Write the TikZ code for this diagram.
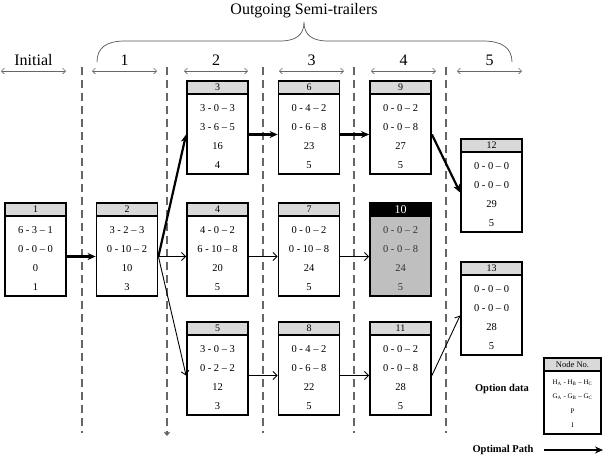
\documentclass[tikz,border=0pt]{standalone}
\usepackage{fontspec}
\setmainfont{Liberation Serif}
\usetikzlibrary{arrows.meta}
\definecolor{headgray}{HTML}{D9D9D9}
\definecolor{darkbody}{HTML}{BFBFBF}
\definecolor{sepgray}{HTML}{666666}
\definecolor{bracegray}{HTML}{555555}
\tikzset{
 boxbody/.style={draw=black, line width=1.8pt, minimum width=61pt, minimum height=93pt, inner sep=0pt, fill=white},
 boxhead/.style={draw=black, line width=1.8pt, minimum width=61pt, minimum height=13pt, inner sep=0pt, fill=headgray, font=\fontsize{10}{11}\selectfont},
 rowtxt/.style={inner sep=0pt, font=\fontsize{10.5}{12}\selectfont},
 legtxt/.style={inner sep=0pt, font=\fontsize{7}{8}\selectfont},
 optarrow/.style={line width=2.2pt, -{Stealth[length=8pt,width=7pt]}},
 plainarrow/.style={line width=0.9pt, -{Straight Barb[length=4pt,width=8pt]}},
 period/.style={draw=sepgray, line width=0.6pt, {Straight Barb[length=3pt,width=6pt]}-{Straight Barb[length=3pt,width=6pt]}},
 sepline/.style={draw=sepgray, line width=1.2pt, dash pattern=on 8pt off 5pt},
 toplabel/.style={font=\fontsize{16}{18}\selectfont, inner sep=0pt},
 boldlabel/.style={font=\fontsize{10.5}{12}\selectfont\bfseries, inner sep=0pt},
}
\newcommand\tbox[8]{%
 \node[boxbody] (#1) at (#2,#3+46.5) {};
 \node[boxhead,anchor=north] (#1h) at (#1.north) {#4};
 \node[rowtxt] (#1a) at (#2,#3+27) {#5};
 \node[rowtxt] (#1b) at (#2,#3+46) {#6};
 \node[rowtxt] (#1c) at (#2,#3+65) {#7};
 \node[rowtxt] (#1d) at (#2,#3+84) {#8};
}
\begin{document}
\begin{tikzpicture}[x=1pt,y=-1pt]
\useasboundingbox (0,0) rectangle (606,464);

% title and brace
\node[toplabel] (title) at (304,11) {Outgoing Semi-trailers};
\draw[bracegray, line width=0.7pt] (97,62) .. controls (97,48) and (106,41) .. (125,41) -- (280,41)
  .. controls (296,41) and (304,35) .. (304,22) .. controls (304,35) and (312,41) .. (328,41) -- (483,41)
  .. controls (502,41) and (512,48) .. (512,62);

% period labels and arrows
\node[toplabel] (lI) at (33.5,60) {Initial};
\node[toplabel] (l1) at (124.5,60) {1};
\node[toplabel] (l2) at (216,60) {2};
\node[toplabel] (l3) at (311.5,60) {3};
\node[toplabel] (l4) at (403.5,60) {4};
\node[toplabel] (l5) at (489.5,60) {5};
\coordinate (aI1) at (1,71);   \coordinate (aI2) at (66,71);
\coordinate (a11) at (92,71);  \coordinate (a12) at (157,71);
\coordinate (a21) at (184,71); \coordinate (a22) at (248,71);
\coordinate (a31) at (279,71); \coordinate (a32) at (344,71);
\coordinate (a41) at (371,71); \coordinate (a42) at (436,71);
\coordinate (a51) at (457,71); \coordinate (a52) at (522,71);
\draw[period] (aI1) -- (aI2);
\draw[period] (a11) -- (a12);
\draw[period] (a21) -- (a22);
\draw[period] (a31) -- (a32);
\draw[period] (a41) -- (a42);
\draw[period] (a51) -- (a52);

% separators
\draw[sepline] (82,67) -- (82,433);
\draw[sepline, -{Straight Barb[length=3pt,width=5pt]}] (167,67) -- (167,436);
\draw[sepline] (263,67) -- (263,433);
\draw[sepline] (354,67) -- (354,433);
\draw[sepline] (446,67) -- (446,433);

% boxes
\tbox{n1}{35.5}{203}{1}{6 - 3 -- 1}{0 - 0 -- 0}{0}{1}
\tbox{n2}{127}{203}{2}{3 - 2 -- 3}{0 - 10 -- 2}{10}{3}
\tbox{n3}{217.5}{81}{3}{3 - 0 -- 3}{3 - 6 -- 5}{16}{4}
\tbox{n4}{217.5}{203}{4}{4 - 0 -- 2}{6 - 10 -- 8}{20}{5}
\tbox{n5}{217.5}{322}{5}{3 - 0 -- 3}{0 - 2 -- 2}{12}{3}
\tbox{n6}{309}{81}{6}{0 - 4 -- 2}{0 - 6 -- 8}{23}{5}
\tbox{n7}{309}{203}{7}{0 - 0 -- 2}{0 - 10 -- 8}{24}{5}
\tbox{n8}{309}{322}{8}{0 - 4 -- 2}{0 - 6 -- 8}{22}{5}
\tbox{n9}{400.5}{81}{9}{0 - 0 -- 2}{0 - 0 -- 8}{27}{5}
\begin{scope}[boxbody/.append style={fill=darkbody},
  boxhead/.append style={fill=black,text=white,font=\fontsize{12}{13}\selectfont},
  rowtxt/.append style={text=black!80}]
\tbox{n10}{400.5}{203}{10}{0 - 0 -- 2}{0 - 0 -- 8}{24}{5}
\end{scope}
\tbox{n11}{400.5}{322}{11}{0 - 0 -- 2}{0 - 0 -- 8}{28}{5}
\tbox{n12}{491.5}{139}{12}{0 - 0 -- 0}{0 - 0 -- 0}{29}{5}
\tbox{n13}{491.5}{262}{13}{0 - 0 -- 0}{0 - 0 -- 0}{28}{5}

% connectors
\draw[optarrow] ([yshift=-7pt]n1.east) -- ([yshift=-7pt]n2.west);
\draw[optarrow] ([yshift=-7pt]n2.east) -- ([yshift=-7pt]n3.west);
\draw[plainarrow] ([yshift=-7pt]n2.east) -- ([yshift=-7pt]n4.west);
\draw[plainarrow] ([yshift=-7pt]n2.east) -- ([yshift=-7pt]n5.west);
\draw[optarrow] ([yshift=-7pt]n3.east) -- ([yshift=-7pt]n6.west);
\draw[optarrow] ([yshift=-7pt]n6.east) -- ([yshift=-7pt]n9.west);
\draw[optarrow] ([yshift=-7pt]n9.east) -- ([yshift=-7pt]n12.west);
\draw[plainarrow] ([yshift=-7pt]n4.east) -- ([yshift=-7pt]n7.west);
\draw[plainarrow] ([yshift=-7pt]n7.east) -- ([yshift=-7pt]n10.west);
\draw[plainarrow] ([yshift=-7pt]n5.east) -- ([yshift=-7pt]n8.west);
\draw[plainarrow] ([yshift=-7pt]n8.east) -- ([yshift=-7pt]n11.west);
\draw[plainarrow] ([yshift=-7pt]n11.east) -- ([yshift=-7pt]n13.west);

% legend
\node[boxbody, minimum width=57pt, minimum height=76pt] (leg) at (572.5,396) {};
\node[boxhead, minimum width=57pt, anchor=north, font=\fontsize{8.5}{10}\selectfont] (legh) at (leg.north) {Node No.};
\node[legtxt] (lega) at (572.5,383) {H\textsubscript{A} - H\textsubscript{B} -- H\textsubscript{C}};
\node[legtxt] (legb) at (572.5,397) {G\textsubscript{A} - G\textsubscript{B} -- G\textsubscript{C}};
\node[legtxt] (legc) at (572.5,411) {P};
\node[legtxt] (legd) at (572.5,425) {I};
\node[boldlabel] (optdata) at (502,389) {Option data};
\node[boldlabel] (optpath) at (503,450) {Optimal Path};
\coordinate (pathA) at (544,450);
\coordinate (pathB) at (603,450);
\draw[optarrow] (pathA) -- (pathB);
\end{tikzpicture}
\end{document}
